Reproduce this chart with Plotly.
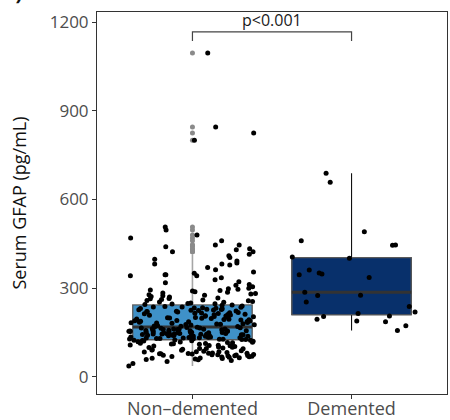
import numpy as np
import plotly.graph_objects as go

# Serum GFAP (pg/mL) per participant
groups = ["Non\u2013demented", "Demented"]

non_demented = [
    37, 45, 52, 55, 58, 60, 62, 63, 65, 66, 68, 69, 70, 71, 72, 73, 74, 75, 75, 76,
    77, 78, 78, 79, 80, 80, 64, 67, 59, 71,
    81, 82, 84, 85, 85, 87, 88, 90, 91, 92, 93, 95, 96, 96, 98, 99, 100, 101, 103, 104,
    105, 106, 107, 108, 110, 111, 112, 113, 114, 115, 116, 117, 118, 119, 120, 121, 122, 123, 124, 124,
    125, 126, 127, 127, 128, 129, 130, 130, 131, 132, 132, 133, 134, 135, 135, 136, 137, 137, 138, 139,
    140, 140, 141, 142, 142, 143, 144, 145, 145, 146, 147, 147, 148, 149, 150, 150, 151, 152, 152, 153,
    154, 155, 155, 156, 157, 157, 158, 159, 160, 160, 161, 162, 162, 163, 164, 165, 165, 166, 126, 131,
    136, 141, 146, 151, 156, 161, 139, 149, 154, 144,
    167, 168, 170, 171, 172, 174, 175, 176, 178, 179, 180, 181, 183, 184, 185, 186, 188, 189, 190, 191,
    193, 194, 195, 196, 198, 199, 200, 201, 203, 204, 205, 206, 208, 209, 210, 211, 213, 214, 215, 216,
    218, 219, 220, 221, 222, 223, 224, 225, 226, 227, 228, 229, 230, 231, 232, 233, 234, 235, 236, 236,
    169, 177, 187, 197, 207, 217, 182, 192, 202, 212,
    238, 240, 242, 243, 245, 247, 248, 250, 252, 253, 255, 257, 258, 260, 262, 264, 265, 267, 270, 272,
    274, 276, 278, 280, 282, 284, 286, 288, 290, 292, 294, 296, 298, 300, 246,
    305, 310, 312, 318, 322, 328, 335, 342, 342, 345, 345, 350, 355, 362, 370, 378, 382, 385, 382, 392,
    398, 404,
    1095, 845, 825, 800, 507, 497, 480, 470, 460, 446, 446, 440, 433, 430, 423, 423, 415, 410,
]

demented = [
    689, 658, 491, 460, 446, 445, 405, 401, 361, 345, 351, 336, 348, 286, 275, 276,
    253, 238, 219, 204, 206, 214, 189, 186, 195, 173, 157,
]

fills = ["#3f91c8", "#08306b"]
whisker_colors = ["#a6a6a6", "#111111"]

BOX_W = 0.75
JITTER = 0.4
PHI = 0.6180339887
SQRT2 = 1.4142135624


def box_stats(vals):
    v = np.asarray(vals, dtype=float)
    q1, med, q3 = np.percentile(v, [25, 50, 75])
    iqr = q3 - q1
    lo_lim, hi_lim = q1 - 1.5 * iqr, q3 + 1.5 * iqr
    inside = v[(v >= lo_lim) & (v <= hi_lim)]
    outl = v[(v < lo_lim) | (v > hi_lim)]
    return q1, med, q3, inside.min(), inside.max(), outl


def jitter_offsets(n, shift):
    # deterministic quadratic Weyl sequence spread over +/- JITTER
    return [(((i * i * PHI + i * SQRT2 + shift) % 1.0) - 0.5) * 2 * JITTER for i in range(n)]


fig = go.Figure()

for pos, (vals, fill, wcol) in enumerate(zip([non_demented, demented], fills, whisker_colors)):
    q1, med, q3, lo, hi, outl = box_stats(vals)

    # whiskers
    fig.add_trace(go.Box(
        x=[pos], q1=[q1], median=[med], q3=[q3], lowerfence=[lo], upperfence=[hi],
        width=BOX_W, whiskerwidth=0, fillcolor="rgba(0,0,0,0)",
        line=dict(color=wcol, width=1.6 if pos == 0 else 1.1),
        hoverinfo="skip", showlegend=False,
    ))
    # box body
    fig.add_trace(go.Box(
        x=[pos], q1=[q1], median=[med], q3=[q3], lowerfence=[q1], upperfence=[q3],
        width=BOX_W, whiskerwidth=0, fillcolor=fill,
        line=dict(color="#5a5a5a", width=1.2),
        hoverinfo="skip", showlegend=False,
    ))
    # median
    fig.add_trace(go.Scatter(
        x=[pos - BOX_W / 2, pos + BOX_W / 2], y=[med, med], mode="lines",
        line=dict(color="#333333", width=3), hoverinfo="skip", showlegend=False,
    ))
    # boxplot outliers
    if len(outl):
        fig.add_trace(go.Scatter(
            x=[pos] * len(outl), y=outl, mode="markers",
            marker=dict(color="#8a8a8a", size=5), showlegend=False,
        ))
    # jittered observations
    offs = jitter_offsets(len(vals), 0.3 * pos)
    fig.add_trace(go.Scatter(
        x=[pos + o for o in offs], y=vals, mode="markers",
        marker=dict(color="#000000", size=5), showlegend=False,
    ))

# significance bracket
BR_Y, BR_TICK = 1167, 1136
fig.add_shape(type="path",
              path=f"M 0 {BR_TICK} L 0 {BR_Y} L 1 {BR_Y} L 1 {BR_TICK}",
              xref="x", yref="y", line=dict(color="#444444", width=1.2))
fig.add_annotation(x=0.5, y=BR_Y, xref="x", yref="y", text="p<0.001",
                   showarrow=False, yanchor="bottom", yshift=-1,
                   font=dict(size=16, color="#1a1a1a", family="Open Sans"))

# panel letter
fig.add_annotation(x=-97 / 350, y=1 + 4 / 382, xref="paper", yref="paper",
                   text="<b>B)</b>", showarrow=False, xanchor="left", yanchor="bottom",
                   font=dict(size=20, color="#111111", family="Open Sans"))

axis_common = dict(showline=True, mirror=True, linecolor="#333333", linewidth=1,
                   ticks="outside", ticklen=4, tickcolor="#333333", showgrid=False,
                   zeroline=False, automargin=False)

fig.update_layout(
    width=450, height=420,
    margin=dict(l=97, r=3, t=12, b=26),
    plot_bgcolor="white", paper_bgcolor="white",
    font=dict(family="Open Sans", color="#4d4d4d"),
    xaxis=dict(range=[-0.6, 1.6], tickvals=[0, 1], ticktext=groups,
               tickfont=dict(size=18, color="#4d4d4d"), ticklabelstandoff=-6,
               **axis_common),
    yaxis=dict(range=[-58, 1234], tickvals=[0, 300, 600, 900, 1200],
               tickfont=dict(size=17, color="#4d4d4d"),
               title=dict(text="Serum GFAP (pg/mL)", font=dict(size=18, color="#111111"),
                          standoff=18),
               **axis_common),
)

fig.write_html("out.html")
